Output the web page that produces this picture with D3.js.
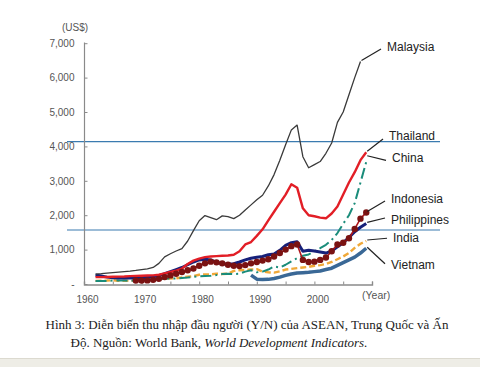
<!DOCTYPE html>
<html><head><meta charset="utf-8">
<script src="https://cdn.jsdelivr.net/npm/d3@7"></script>
<style>
html,body{margin:0;padding:0;background:#fff;}
svg{display:block;}
</style></head>
<body>
<svg id="chart" width="480" height="367"></svg>
<script>
// ---- data ----
const years = d3.range(1962, 2010);
const malaysiaYears = d3.range(1962, 2009);
const malaysia = [290,300,315,330,345,360,375,395,420,440,480,600,790,880,960,1030,1250,1550,1840,1990,1930,1870,1980,1960,1900,2000,2150,2300,2450,2580,2850,3180,3600,4050,4480,4620,3700,3380,3470,3560,3800,4100,4700,5000,5500,6000,6470];
const thailand = [200,200,205,210,215,220,230,235,240,245,250,270,310,350,390,450,580,680,740,780,800,810,820,830,850,950,1150,1220,1400,1590,1850,2100,2350,2600,2900,2800,2200,2000,1970,1930,1910,2050,2250,2600,2950,3250,3600,3830];
const china = [90,85,90,100,105,100,95,105,115,120,125,140,150,160,160,175,190,210,220,230,240,260,290,300,290,300,360,400,340,360,420,510,480,560,660,750,820,860,950,1040,1140,1280,1480,1750,2000,2350,2950,3550];
const philippines = [260,230,200,180,175,175,175,180,185,195,210,240,300,360,420,480,560,640,700,720,700,630,590,580,590,640,700,750,780,800,850,870,980,1120,1200,1230,950,980,960,930,900,960,1080,1200,1350,1520,1650,1760];
const india = [90,95,100,110,95,95,100,110,115,120,120,140,160,160,165,190,210,230,270,280,280,300,290,300,380,400,410,420,430,360,340,330,370,420,440,460,480,500,530,550,580,640,720,800,900,1050,1170,1250];
const indonesiaYears = d3.range(1969, 2010);
const indonesia = [100,100,105,120,150,200,250,300,350,400,450,530,600,650,630,600,560,530,520,550,600,640,680,720,800,900,1000,1100,1150,700,640,650,700,770,950,1150,1200,1330,1600,1900,2080];
const vietnamYears = d3.range(1989, 2010);
const vietnam = [260,140,130,135,160,200,250,290,320,330,340,360,380,420,460,540,620,700,780,900,1040];

const yTicks = [0,1000,2000,3000,4000,5000,6000,7000];
const yTickLabels = ["-","1,000","2,000","3,000","4,000","5,000","6,000","7,000"];
const xLabelYears = [1960,1970,1980,1990,2000];
const xTickYears = d3.range(1960, 2011, 5);
const refLines = [4140, 1570];

const labelNames = ["Malaysia","Thailand","China","Indonesia","Philippines","India","Vietnam"];
const labelValues = [6890, 4300, 3680, 2470, 1860, 1330, 560];

// ---- scales ----
const svg = d3.select("#chart");
const x = d3.scaleLinear().domain([1960, 2010]).range([84, 372]);
const y = d3.scaleLinear().domain([0, 7000]).range([284, 43.2]);

const narrow = "'Liberation Sans Narrow','Arial Narrow','Liberation Sans',Arial,sans-serif";

// reference horizontal lines
svg.selectAll("line.ref").data(refLines).enter().append("line")
  .attr("x1", 67).attr("x2", 440)
  .attr("y1", d => y(d)).attr("y2", d => y(d))
  .attr("stroke", "#3b7bb0").attr("stroke-width", 1.2);

// axes
const yAxis = d3.axisLeft(y).tickValues(yTicks).tickSize(-3)
  .tickFormat((d, i) => yTickLabels[i]).tickPadding(10);
const gy = svg.append("g").attr("transform", "translate(84.5,0)").call(yAxis);
gy.select(".domain").attr("d", "M0,42.5V284.5").attr("stroke", "#8a8a8a").attr("stroke-width", 1.2);
gy.selectAll(".tick line").attr("stroke", "#8a8a8a");
gy.selectAll(".tick text").attr("fill", "#555").style("font-family", narrow).style("font-size", "10px");

const xAxis = d3.axisBottom(x).tickValues(xTickYears).tickSize(-3)
  .tickFormat(d => xLabelYears.includes(d) ? d : "").tickPadding(11);
const gx = svg.append("g").attr("transform", "translate(0,284.5)").call(xAxis);
gx.select(".domain").attr("stroke", "#8a8a8a").attr("stroke-width", 1.4);
gx.selectAll(".tick line").attr("stroke", "#8a8a8a");
gx.selectAll(".tick text").attr("fill", "#555").style("font-family", narrow).style("font-size", "10px")
  .attr("dx", 3);

svg.append("text").attr("x", 62).attr("y", 31).text("(US$)")
  .attr("fill", "#555").style("font-family", narrow).style("font-size", "10px");
svg.append("text").attr("x", 362).attr("y", 299).text("(Year)")
  .attr("fill", "#555").style("font-family", narrow).style("font-size", "10.5px");

// lines
const line = d3.line().x(d => x(d[0])).y(d => y(d[1]));
const zip = (ys, vs) => ys.map((yr, i) => [yr, vs[i]]);

const series = [
  {data: zip(vietnamYears, vietnam), color: "#3a6896", width: 3.5},
  {data: zip(years, india), color: "#f0a838", width: 2.4, dash: "6,3"},
  {data: zip(years, china), color: "#1a8c7a", width: 2, dash: "11,4,2,4"},
  {data: zip(years, philippines), color: "#16207a", width: 3},
  {data: zip(years, thailand), color: "#e21e26", width: 2.4},
  {data: zip(malaysiaYears, malaysia), color: "#3a3a3a", width: 1.3},
  {data: zip(indonesiaYears, indonesia), color: "#b0161c", width: 1.6}
];
series.forEach(s => {
  svg.append("path").datum(s.data).attr("d", line)
    .attr("fill", "none").attr("stroke", s.color).attr("stroke-width", s.width)
    .attr("stroke-linejoin", "round")
    .attr("stroke-dasharray", s.dash || null);
});
svg.selectAll("circle.indo").data(zip(indonesiaYears, indonesia)).enter().append("circle")
  .attr("cx", d => x(d[0])).attr("cy", d => y(d[1])).attr("r", 3.2)
  .attr("fill", "#7a1212");

// labels with leader lines
const lastPts = [
  [2008, 6470], [2009, 3830], [2009, 3700], [2009, 2080], [2009, 1760], [2009, 1250], [2009, 1040]
];
const leaderDy = [2, 3, 3, 2, -2, 0, -1];
const labelX = [387, 389, 392, 391, 391, 393, 391];
labelNames.forEach((name, i) => {
  const ly = y(labelValues[i]);
  const sx = x(lastPts[i][0]) + 1, sy = y(lastPts[i][1]) - 1;
  svg.append("line").attr("x1", sx).attr("y1", sy)
    .attr("x2", labelX[i] - 6).attr("y2", ly + leaderDy[i])
    .attr("stroke", "#222").attr("stroke-width", 1.2);
  svg.append("text").attr("x", labelX[i]).attr("y", ly).attr("dy", "0.35em")
    .text(name).attr("fill", "#222").style("font-family", narrow).style("font-size", "12px");
});

// caption
const cap = svg.append("text").attr("text-anchor", "middle")
  .style("font-family", "'Liberation Serif','Times New Roman',serif").style("font-size", "13px").attr("fill", "#222");
cap.append("tspan").attr("x", 247).attr("y", 329)
  .text("Hình 3: Diễn biến thu nhập đầu người (Y/N) của ASEAN, Trung Quốc và Ấn");
const l2 = cap.append("tspan").attr("x", 219).attr("y", 347);
l2.append("tspan").text("Độ. Nguồn: World Bank, ");
l2.append("tspan").style("font-style", "italic").text("World Development Indicators.");

// bottom band
svg.append("rect").attr("x", 0).attr("y", 358).attr("width", 480).attr("height", 9).attr("fill", "#eeede6");
svg.append("line").attr("x1", 0).attr("x2", 480).attr("y1", 358.5).attr("y2", 358.5).attr("stroke", "#dcdad0");
</script>
</body></html>
